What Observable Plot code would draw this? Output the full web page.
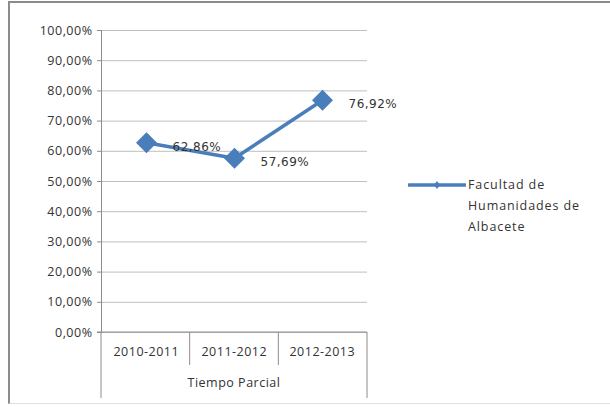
<!DOCTYPE html>
<html>
<head>
<meta charset="utf-8">
<script src="https://cdn.jsdelivr.net/npm/d3@7"></script>
<script src="https://cdn.jsdelivr.net/npm/@observablehq/plot@0.6"></script>
<style>
  html, body { margin: 0; padding: 0; background: #fff; }
  #wrap { position: relative; width: 610px; height: 407px; overflow: hidden; }
  #border { position: absolute; left: 8px; top: 1px; width: 610px; height: 403px;
            border-left: 2px solid #8c8c8c; border-top: 2px solid #8c8c8c; border-bottom: 1px solid #e0e0e0; box-sizing: border-box; }
  #chart { position: absolute; left: 0; top: 0; }
  #legend { position: absolute; left: 408px; top: 174px; display: flex; align-items: flex-start;
            font-family: "Open Sans", sans-serif; font-size: 12.5px; letter-spacing: 0.9px; color: #333; line-height: 21px; }
  #legend svg { margin-top: 4px; margin-right: 2px; }
</style>
</head>
<body>
<div id="wrap">
  <div id="border"></div>
  <div id="chart"></div>
  <div id="legend"></div>
</div>
<script>
const categories = ["2010-2011", "2011-2012", "2012-2013"];
const values = [0.6286, 0.5769, 0.7692];
const seriesName = "Facultad de Humanidades de Albacete";
const axisTitle = "Tiempo Parcial";
const yTicks = [0, 0.1, 0.2, 0.3, 0.4, 0.5, 0.6, 0.7, 0.8, 0.9, 1.0];

const color = "#4a7ebb";
const data = categories.map((c, i) => ({cat: c, v: values[i]}));
const fmt = d => (d * 100).toFixed(2).replace(".", ",") + "%";
const font = "'Open Sans', sans-serif";

const plot = Plot.plot({
  width: 610,
  height: 407,
  marginLeft: 101,
  marginRight: 243,
  marginTop: 30,
  marginBottom: 75,
  style: {fontFamily: font, fontSize: "12.5px", color: "#333", background: "transparent", letterSpacing: "0.5px"},
  x: {type: "band", domain: categories, padding: 0, axis: null},
  y: {domain: [0, 1], axis: null},
  marks: [
    Plot.gridY(yTicks, {stroke: "#bfbfbf", strokeOpacity: 1, strokeWidth: 1}),
    Plot.axisY(yTicks, {tickSize: 4, tickPadding: 5, tickFormat: fmt, stroke: "#8c8c8c", fill: "#333", fontSize: 12.5, label: null,
                        style: "letter-spacing: 1px"}),
    Plot.frame({anchor: "left", stroke: "#8c8c8c"}),
    Plot.line(data, {x: "cat", y: "v", stroke: color, strokeWidth: 3.5}),
    Plot.dot(data, {x: "cat", y: "v", symbol: "diamond2", r: 8.5, fill: color, stroke: color}),
    Plot.text(data, {x: "cat", y: "v", text: d => fmt(d.v), textAnchor: "start", dx: 26, dy: 4,
                     fontFamily: "'DejaVu Sans', Verdana, sans-serif", fontSize: 12, fill: "#333",
                     style: "letter-spacing: 0.8px"})
  ]
});
document.getElementById("chart").appendChild(plot);

// category axis: labels, separators and title below the plot, from the x scale
const xs = plot.scale("x");
const ys = plot.scale("y");
const svg = d3.select(plot);
const [r0, r1] = xs.range;
const bw = (r1 - r0) / categories.length;
const base = ys.apply(0);
const g = svg.append("g").attr("stroke", "#8c8c8c");
g.append("line").attr("x1", r0 - 4).attr("x2", r1).attr("y1", base).attr("y2", base);
for (let i = 0; i <= categories.length; i++) {
  const x = r0 + i * bw;
  const outer = i === 0 || i === categories.length;
  g.append("line").attr("x1", x).attr("x2", x).attr("y1", base).attr("y2", base + (outer ? 66 : 33));
}
const tg = svg.append("g").attr("font-family", font).attr("font-size", 12.5).attr("fill", "#333")
  .attr("text-anchor", "middle").attr("letter-spacing", "0.5px");
categories.forEach(c => {
  tg.append("text").attr("x", xs.apply(c) + bw / 2).attr("y", base + 20).attr("dy", "0.32em").text(c);
});
tg.append("text").attr("x", (r0 + r1) / 2).attr("y", base + 51).attr("dy", "0.32em").text(axisTitle);

// legend
const leg = d3.select("#legend");
const ls = leg.append("svg").attr("width", 58).attr("height", 14);
ls.append("line").attr("x1", 1).attr("x2", 57).attr("y1", 7).attr("y2", 7).attr("stroke", color).attr("stroke-width", 3.5).attr("stroke-linecap", "round");
ls.append("path").attr("d", "M29,3 L32,7 L29,11 L26,7 Z").attr("fill", color);
leg.append("div").html("Facultad de<br>Humanidades de<br>Albacete");
</script>
</body>
</html>
